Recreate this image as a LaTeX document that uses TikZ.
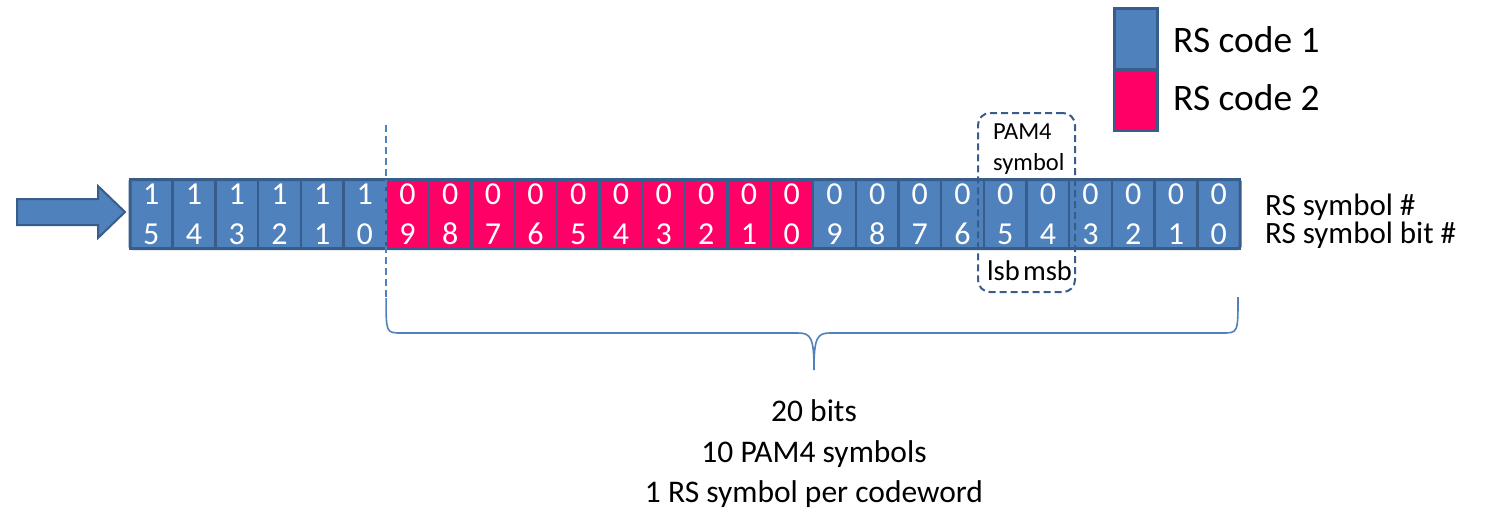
\documentclass[tikz,border=0pt]{standalone}
\usepackage{fontspec}
\setmainfont{Carlito}
\definecolor{cellblue}{HTML}{4F81BD}
\definecolor{celledge}{HTML}{385D8A}
\definecolor{codepink}{HTML}{FF0066}

\begin{document}
\begin{tikzpicture}[x=1pt,y=-1pt,
  bitcell/.style={draw=celledge, line width=2.5pt, minimum width=42.69pt,
    minimum height=69pt, inner sep=0pt, outer sep=0pt, text=white,
    align=center, font=\fontsize{32}{40}\selectfont},
  keybox/.style={draw=celledge, line width=3pt, minimum width=43pt,
    minimum height=61pt, inner sep=0pt},
  keytext/.style={inner sep=0pt, anchor=base west, font=\fontsize{37.4}{44}\selectfont},
  rowtext/.style={inner sep=0pt, anchor=base west, font=\fontsize{31}{34}\selectfont},
  sumtext/.style={inner sep=0pt, anchor=base, font=\fontsize{31.5}{41}\selectfont},
  small/.style={inner sep=0pt, font=\fontsize{24.5}{28}\selectfont},
  bitside/.style={inner sep=0pt, anchor=base, font=\fontsize{28.5}{32}\selectfont},
  brace/.style={draw=cellblue, line width=1.6pt},
  cut/.style={draw=cellblue, line width=2.5pt, dash pattern=on 7pt off 4pt}]
\useasboundingbox (0,0) rectangle (1486,509);

% input arrow
\draw[fill=cellblue, draw=celledge, line width=2pt, line join=miter]
  (17,199) -- (98,199) -- (98,186) -- (125,212) -- (98,238) -- (98,225)
  -- (17,225) -- cycle;

% the 26 bit cells: 6 of code 1, 10 of code 2, 10 of code 1
\foreach \i in {0,...,25}{
  \pgfmathtruncatemacro{\bitno}{\i<6 ? 5-\i : (\i<16 ? 15-\i : 25-\i)}
  \pgfmathtruncatemacro{\symno}{\i<6 ? 1 : 0}
  \ifnum\i<6 \def\cellfill{cellblue}\else
    \ifnum\i<16 \def\cellfill{codepink}\else\def\cellfill{cellblue}\fi\fi
  \node[bitcell, fill=\cellfill] (c\i) at ({130+42.692*(\i+0.5)},214) {\symno\\\bitno};
}
% outer frame of the bit row
\draw[draw=celledge, line width=3pt, rounded corners=2pt]
  (c0.north west) rectangle (c25.south east);

% row labels
\node[rowtext] (symlbl) at (1265,215) {RS symbol \#};
\node[rowtext] (bitlbl) at (1265,243) {RS symbol bit \#};

% legend
\node[keybox, fill=cellblue] (key1) at (1135.5,39) {};
\node[keybox, fill=codepink] (key2) at (1135.5,100) {};
\node[keytext] (key1lbl) at (1173,52) {RS code 1};
\node[keytext] (key2lbl) at (1173,110) {RS code 2};

% one PAM4 symbol
\node[draw=celledge, line width=2pt, dash pattern=on 7pt off 4pt,
  rounded corners=12pt, minimum width=97pt, minimum height=179pt,
  inner sep=0pt] (pambox) at (1026.5,202.5) {};
\node[small, anchor=base west] (pam1) at (993,139) {PAM4};
\node[small, anchor=base west] (pam2) at (993,170) {symbol};
\node[bitside] (lsb) at (1003.5,280) {lsb};
\node[bitside] (msb) at (1047.5,280) {msb};

% codeword boundary and brace
\coordinate (cuttop) at (c6.west |- 0,125);
\coordinate (brL) at (c6.west |- 0,298);
\coordinate (brR) at (1238,297);
\coordinate (brTip) at (814,370);
\draw[cut] (cuttop) -- (brL);
\draw[brace] (brL) .. controls (386,333) and (386,333) .. (402,333)
  -- (798,333) .. controls (811,333) and (814,338) .. (brTip)
  .. controls (814,338) and (817,333) .. (830,333)
  -- (1222,333) .. controls (1238,333) and (1238,333) .. (brR);

% summary
\node[sumtext] (sum1) at (814,421) {20 bits};
\node[sumtext] (sum2) at (814,462) {10 PAM4 symbols};
\node[sumtext] (sum3) at (814,502) {1 RS symbol per codeword};
\end{tikzpicture}
\end{document}
